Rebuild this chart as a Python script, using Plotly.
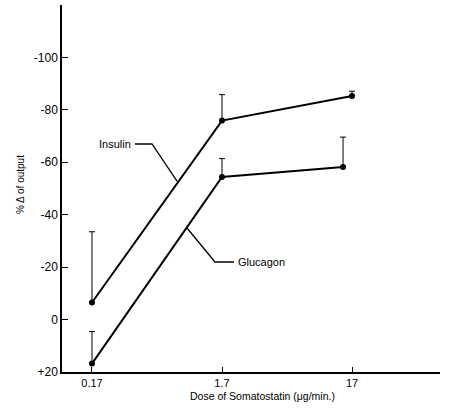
import plotly.graph_objects as go

# Data
insulin_x = [0.17, 1.7, 17]
insulin_y = [-6.5, -75.9, -85.3]
insulin_err = [27.0, 9.9, 1.8]

glucagon_x = [0.17, 1.7, 14.5]
glucagon_y = [16.8, -54.4, -58.2]
glucagon_err = [12.2, 7.0, 11.4]

x_tickvals = [0.17, 1.7, 17]
x_ticktext = ["0.17", "1.7", "17"]
y_tickvals = [-100, -80, -60, -40, -20, 0, 20]
y_ticktext = ["-100", "-80", "-60", "-40", "-20", "0", "+20"]

FONT = "Liberation Sans, Arial, sans-serif"
L, R, T, B = 62, 440, 5, 372
W, H = 449, 408

def px(x, y):
    return (x - L) / (R - L), (B - y) / (B - T)

fig = go.Figure()
for xs, ys, es in [(insulin_x, insulin_y, insulin_err), (glucagon_x, glucagon_y, glucagon_err)]:
    fig.add_trace(go.Scatter(
        x=xs, y=ys, mode="lines+markers",
        line=dict(color="black", width=2),
        marker=dict(color="black", size=6),
        error_y=dict(type="data", symmetric=False, array=[0]*len(es), arrayminus=es,
                     color="black", thickness=1, width=3),
        showlegend=False, hoverinfo="skip",
    ))

def leader(points):
    pts = [px(a, b) for a, b in points]
    path = "M " + " L ".join(f"{a:.4f},{b:.4f}" for a, b in pts)
    fig.add_shape(type="path", path=path, xref="paper", yref="paper",
                  line=dict(color="black", width=1.3))

leader([(135, 144), (152, 144), (177, 181)])
leader([(187, 228), (215, 262), (234, 262)])

ax, ay = px(133, 144)
fig.add_annotation(x=ax, y=ay, xref="paper", yref="paper", text="Insulin",
                   showarrow=False, xanchor="right", yanchor="middle",
                   font=dict(family=FONT, size=11, color="black"))
ax, ay = px(236, 262)
fig.add_annotation(x=ax, y=ay, xref="paper", yref="paper", text="Glucagon",
                   showarrow=False, xanchor="left", yanchor="middle",
                   font=dict(family=FONT, size=11, color="black"))

ax, ay = px(20, 185)
fig.add_annotation(x=ax, y=ay, xref="paper", yref="paper", text="% Δ of output",
                   showarrow=False, textangle=-90, xanchor="center", yanchor="middle",
                   font=dict(family=FONT, size=10, color="black"))
ax, ay = px(262, 396)
fig.add_annotation(x=ax, y=ay, xref="paper", yref="paper",
                   text="Dose of Somatostatin (μg/min.)",
                   showarrow=False, xanchor="center", yanchor="middle",
                   font=dict(family=FONT, size=10.5, color="black"))

fig.update_xaxes(type="log", range=[-1.0, 1.907], tickvals=x_tickvals, ticktext=x_ticktext,
                 showgrid=False, zeroline=False, showline=True, linecolor="black", linewidth=1.5,
                 ticks="inside", ticklen=5, tickcolor="black", tickwidth=1,
                 tickfont=dict(family=FONT, size=11, color="black"))
fig.update_yaxes(range=[20, -120], tickvals=y_tickvals, ticktext=y_ticktext,
                 showgrid=False, zeroline=False, showline=True, linecolor="black", linewidth=1.5,
                 ticks="inside", ticklen=6, tickcolor="black", tickwidth=1,
                 tickfont=dict(family=FONT, size=12, color="black"))

fig.update_layout(width=W, height=H, margin=dict(l=L, r=W - R, t=T, b=H - B),
                  plot_bgcolor="white", paper_bgcolor="white")
fig.write_html("out.html", config={"displayModeBar": False},
               post_script="document.body.style.margin='0px';document.body.style.overflow='hidden';")
